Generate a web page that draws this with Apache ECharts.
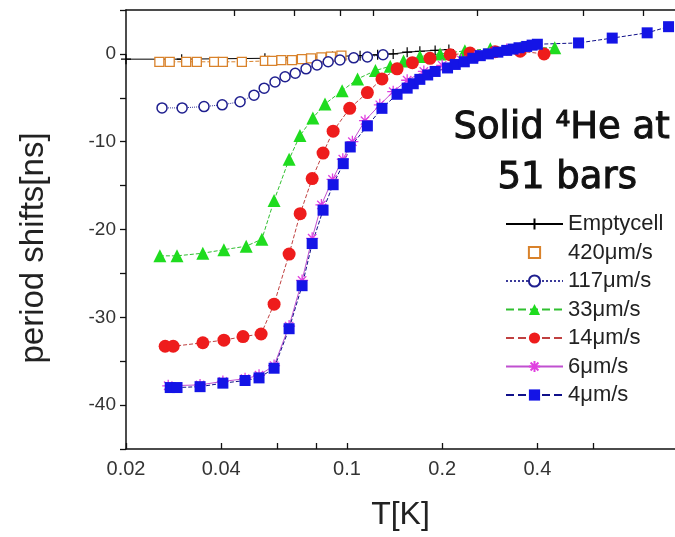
<!DOCTYPE html>
<html><head><meta charset="utf-8">
<script src="https://cdn.jsdelivr.net/npm/echarts@6/dist/echarts.min.js"></script>
<style>html,body{margin:0;padding:0;background:#fff}#c{width:675px;height:537px}</style>
</head><body><div id="c"></div>
<script>
// ---- data (T in K, period shift in ns) ----
const names = ['Emptycell', '420\u03bcm/s', '117\u03bcm/s', '33\u03bcm/s', '14\u03bcm/s', '6\u03bcm/s', '4\u03bcm/s'];

const T_empty = [0.02, 0.03, 0.055, 0.09, 0.11, 0.125, 0.14, 0.155, 0.17, 0.19, 0.21];
const V_empty = [-0.6, -0.6, -0.5, -0.3, -0.2, -0.1, 0.0, 0.2, 0.3, 0.4, 0.5];

const T_420 = [0.0255, 0.0275, 0.031, 0.0335, 0.038, 0.0405, 0.0465, 0.055, 0.058, 0.062, 0.067, 0.072, 0.077, 0.083, 0.089, 0.096];
const V_420 = [-0.9, -0.9, -0.9, -0.9, -0.9, -0.9, -0.9, -0.8, -0.8, -0.7, -0.7, -0.6, -0.5, -0.4, -0.3, -0.2];

const T_117 = [0.026, 0.0301, 0.0353, 0.0403, 0.0459, 0.0508, 0.0547, 0.0592, 0.0637, 0.0686, 0.0742, 0.0804, 0.0872, 0.095, 0.105, 0.116, 0.130];
const V_117 = [-6.15, -6.15, -6.0, -5.8, -5.45, -4.7, -3.9, -3.2, -2.6, -2.2, -1.7, -1.25, -0.9, -0.7, -0.45, -0.35, -0.1];

const T_33 = [0.0256, 0.029, 0.035, 0.0408, 0.048, 0.0538, 0.0588, 0.0656, 0.071, 0.078, 0.0852, 0.0965, 0.108, 0.123, 0.137, 0.151, 0.17, 0.197, 0.236, 0.284, 0.353, 0.454];
const V_33 = [-23.0, -23.0, -22.7, -22.3, -21.9, -21.1, -16.7, -12.0, -9.3, -7.3, -5.7, -4.2, -2.85, -1.9, -1.4, -0.8, -0.3, 0.0, 0.35, 0.6, 0.7, 0.7];

const T_14 = [0.0266, 0.0282, 0.035, 0.0408, 0.0469, 0.0535, 0.0588, 0.0656, 0.0711, 0.0776, 0.084, 0.0904, 0.102, 0.116, 0.129, 0.144, 0.161, 0.183, 0.212, 0.245, 0.294, 0.353, 0.42];
const V_14 = [-33.3, -33.3, -32.9, -32.6, -32.2, -31.9, -28.5, -22.8, -18.2, -14.2, -11.3, -8.8, -6.2, -4.4, -2.85, -1.7, -1.0, -0.5, -0.1, 0.1, 0.25, 0.3, 0.0];

const T_6 = [0.0272, 0.0343, 0.0405, 0.0476, 0.0527, 0.0588, 0.0656, 0.0721, 0.0776, 0.083, 0.09, 0.097, 0.104, 0.114, 0.127, 0.14, 0.155, 0.175, 0.2, 0.23, 0.26, 0.29, 0.32, 0.35];
const V_6 = [-37.8, -37.7, -37.3, -37.0, -36.6, -35.5, -31.0, -25.8, -21.0, -17.2, -14.3, -12.0, -10.0, -7.6, -5.8, -4.3, -3.0, -2.0, -1.3, -0.7, -0.2, 0.2, 0.5, 0.6];

const T_4 = [0.0276, 0.029, 0.0343, 0.0405, 0.0476, 0.0527, 0.0588, 0.0656, 0.0721, 0.0776, 0.084, 0.0904, 0.0973, 0.1024, 0.116, 0.129, 0.144, 0.155, 0.162, 0.17, 0.18, 0.19, 0.208, 0.22, 0.235, 0.25, 0.264, 0.28, 0.30, 0.32, 0.335, 0.35, 0.37, 0.385, 0.40, 0.54, 0.69, 0.89, 1.04];
const V_4 = [-38.0, -38.0, -37.9, -37.5, -37.2, -36.9, -35.8, -31.3, -26.4, -21.6, -17.8, -14.9, -12.5, -10.6, -8.2, -6.2, -4.6, -3.9, -3.4, -2.9, -2.4, -2.0, -1.6, -1.2, -0.9, -0.5, -0.2, 0.0, 0.2, 0.4, 0.55, 0.7, 0.85, 1.0, 1.1, 1.25, 1.8, 2.4, 3.1];

const xTickVals = [0.02, 0.04, 0.06, 0.08, 0.1, 0.2, 0.4, 0.6];
const xLabelVals = [0.02, 0.04, 0.1, 0.2, 0.4];
const topTickVals = [0.044, 0.068, 0.095, 0.121, 0.259, 0.557, 0.866];

// ---- chart ----
const pair = (T, V) => T.map((t, i) => [t, V[i]]);
const PLUS = 'path://M0,5L10,5M5,0L5,10';
const STAR = 'path://M0,5L10,5M5,0L5,10M1.5,1.5L8.5,8.5M8.5,1.5L1.5,8.5';

const chart = echarts.init(document.getElementById('c'), null, {renderer: 'canvas'});
const font = 'Liberation Sans, Arial, sans-serif';

const series = [
  {name: names[0], data: pair(T_empty, V_empty), symbol: PLUS, symbolSize: 10,
   itemStyle: {color: 'transparent', borderColor: '#000', borderWidth: 1.2},
   lineStyle: {color: '#000', width: 1}},
  {name: names[1], data: pair(T_420, V_420), symbol: 'rect', symbolSize: 9,
   itemStyle: {color: '#fff', borderColor: '#d9822b', borderWidth: 1.3},
   lineStyle: {color: '#d9822b', width: 1, type: 'dashed'}},
  {name: names[2], data: pair(T_117, V_117), symbol: 'circle', symbolSize: 10,
   itemStyle: {color: '#fff', borderColor: '#1f1f8f', borderWidth: 1.5},
   lineStyle: {color: '#3a3a9a', width: 1, type: 'dotted'}},
  {name: names[3], data: pair(T_33, V_33), symbol: 'triangle', symbolSize: 13,
   itemStyle: {color: '#1fdc1f'},
   lineStyle: {color: '#30c030', width: 1, type: 'dashed'}},
  {name: names[4], data: pair(T_14, V_14), symbol: 'circle', symbolSize: 13,
   itemStyle: {color: '#ee1c1c'},
   lineStyle: {color: '#c04040', width: 1, type: 'dashed'}},
  {name: names[5], data: pair(T_6, V_6), symbol: STAR, symbolSize: 12,
   itemStyle: {color: 'transparent', borderColor: '#e040e0', borderWidth: 1.3},
   lineStyle: {color: '#c050d0', width: 1}},
  {name: names[6], data: pair(T_4, V_4), symbol: 'rect', symbolSize: 11,
   itemStyle: {color: '#1414e6'},
   lineStyle: {color: '#10108a', width: 1, type: 'dashed'}}
].map(s => Object.assign({type: 'line', xAxisIndex: 0, yAxisIndex: 0, showAllSymbol: true, z: 3}, s));

chart.setOption({
  animation: false,
  backgroundColor: '#fff',
  grid: {left: 126, right: 0, top: 10, bottom: 88, containLabel: false},
  xAxis: [{
    type: 'log', logBase: 10, min: 0.02, max: 1.09, position: 'bottom',
    axisLine: {show: true, onZero: false, lineStyle: {color: '#111', width: 1.5}},
    axisTick: {show: true, inside: true, length: 6, customValues: xTickVals, lineStyle: {color: '#111', width: 1.3}},
    axisLabel: {customValues: xLabelVals, formatter: v => String(+(+v).toPrecision(2)), fontSize: 20, color: '#333', margin: 10, fontFamily: font},
    splitLine: {show: false}, minorTick: {show: false},
    name: 'T[K]', nameLocation: 'middle', nameGap: 50,
    nameTextStyle: {fontSize: 32, color: '#222', fontFamily: font}
  }, {
    type: 'log', logBase: 10, min: 0.02, max: 1.09, position: 'top',
    axisLine: {show: true, onZero: false, lineStyle: {color: '#111', width: 1.5}},
    axisTick: {show: true, inside: true, length: 6, customValues: topTickVals, lineStyle: {color: '#111', width: 1.3}},
    axisLabel: {show: false}, splitLine: {show: false}
  }],
  yAxis: {
    type: 'value', min: -45, max: 5, interval: 5,
    axisLine: {show: true, onZero: false, lineStyle: {color: '#111', width: 1.5}},
    axisTick: {show: true, inside: false, length: 6, lineStyle: {color: '#111', width: 1.3}},
    axisLabel: {formatter: v => (v % 10 === 0 ? String(v) : ''), fontSize: 19, color: '#333', margin: 10, fontFamily: font},
    splitLine: {show: false}
  },
  legend: {
    orient: 'vertical', left: 500, top: 208, itemWidth: 57, itemHeight: 14, itemGap: 6.5,
    textStyle: {fontSize: 22, color: '#222', fontFamily: font, lineHeight: 21},
    data: names.map((n, i) => i === 1 ? {name: n, lineStyle: {opacity: 0}} : {name: n})
  },
  graphic: [
    {type: 'text', x: 34, y: 248, rotation: Math.PI / 2,
     style: {text: 'period shifts[ns]', font: '33px ' + font, fill: '#222', align: 'center', verticalAlign: 'middle'}},
    {type: 'text', left: 453, top: 109,
     style: {text: 'Solid \u2074He at', font: '37px DejaVu Sans', fill: '#111', stroke: '#111', lineWidth: 1}},
    {type: 'text', left: 497, top: 159,
     style: {text: '51 bars', font: '37px DejaVu Sans', fill: '#111', stroke: '#111', lineWidth: 1}}
  ],
  series: series
});
</script>
</body></html>
